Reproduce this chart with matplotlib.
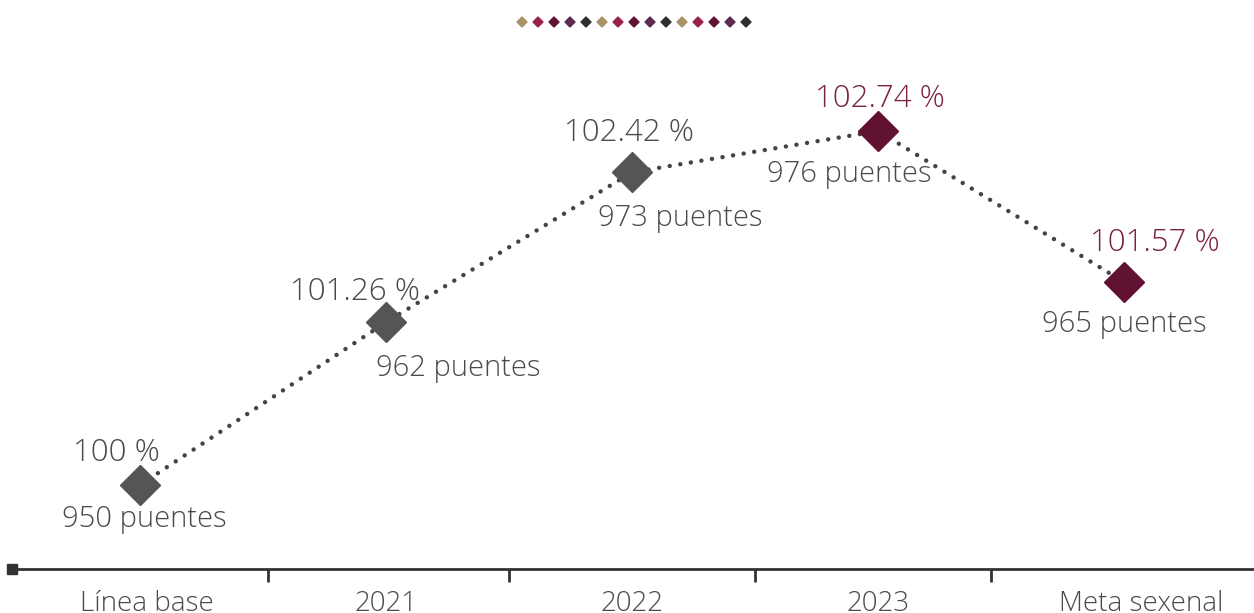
import matplotlib
matplotlib.use('Agg')

import numpy as np
import matplotlib.pyplot as plt
from matplotlib.transforms import ScaledTranslation

# Data
categorias = ['Línea base', '2021', '2022', '2023', 'Meta sexenal']
porcentaje = [100.0, 101.26, 102.42, 102.74, 101.57]
puentes = [950, 962, 973, 976, 965]
es_meta = [False, False, False, True, True]

gris = '#555555'
texto = '#4a4a4a'
guinda = '#611232'
guinda_txt = '#7b2346'

plt.rcParams['font.family'] = ['Open Sans', 'DejaVu Sans']

fig = plt.figure(figsize=(12.54, 6.13), dpi=100)
ax = fig.add_axes([0, 0, 1, 1])
ax.set_xlim(-0.569, 4.528)
ax.set_ylim(99.009, 103.754)

x = np.arange(len(categorias))

# Dotted line and markers
ax.plot(x, porcentaje, linestyle=(0, (0.01, 2.4)), color='#444444', lw=3.2,
        dash_capstyle='round', zorder=2)
for i in x:
    c = guinda if es_meta[i] else gris
    ax.plot(x[i], porcentaje[i], marker='D', markersize=20, color=c,
            linestyle='None', zorder=3)

# Labels (offsets in points)
off_pct = [(-17, 23), (-22, 22), (-2, 28), (1, 23), (22, 28)]
off_cnt = [(3, -25), (52, -33), (35, -33), (-21, -31), (0, -30)]
for i in x:
    c = guinda_txt if es_meta[i] else texto
    ax.annotate(f'{porcentaje[i]:g} %', (x[i], porcentaje[i]),
                xytext=off_pct[i], textcoords='offset points',
                ha='center', va='center', fontsize=22.5, color=c,
                fontweight='light')
    ax.annotate(f'{puentes[i]} puentes', (x[i], porcentaje[i]),
                xytext=off_cnt[i], textcoords='offset points',
                ha='center', va='center', fontsize=21, color=texto,
                fontweight='light')

# Axis line
for s in ['top', 'right', 'left']:
    ax.spines[s].set_visible(False)
ax.spines['bottom'].set_position(('data', 99.35))
ax.spines['bottom'].set_bounds(-0.52, 4.528)
ax.spines['bottom'].set_color('#333333')
ax.spines['bottom'].set_linewidth(2)
ax.plot([-0.52], [99.35], marker='s', markersize=7, color='#333333', clip_on=False)
ax.set_yticks([])
ax.set_xticks(x)
ax.set_xticklabels(categorias, fontsize=20, color=texto, fontweight='light')
ax.tick_params(axis='x', which='major', length=0, pad=15)
ax.set_xticks([0.52, 1.5, 2.5, 3.46], minor=True)
ax.tick_params(axis='x', which='minor', length=9, width=2, color='#333333')
# small shifts of the outer labels, as in the reference
lbls = ax.get_xticklabels()
for k, dx in [(0, 0.07), (4, 0.17)]:
    lbls[k].set_transform(lbls[k].get_transform() +
                          ScaledTranslation(dx, 0, fig.dpi_scale_trans))

# Decorative diamonds at top
deco = ['#a7926a', '#9b2247', '#611232', '#5e2a4f', '#2f2f2f'] * 3
for j, c in enumerate(deco):
    fig.patches.append(plt.Polygon(
        [[(522 + 16 * j) / 1254, (613 - 17) / 613],
         [(527 + 16 * j) / 1254, (613 - 22) / 613],
         [(522 + 16 * j) / 1254, (613 - 27) / 613],
         [(517 + 16 * j) / 1254, (613 - 22) / 613]],
        closed=True, color=c, transform=fig.transFigure))

fig.savefig('out.png', dpi=100)
